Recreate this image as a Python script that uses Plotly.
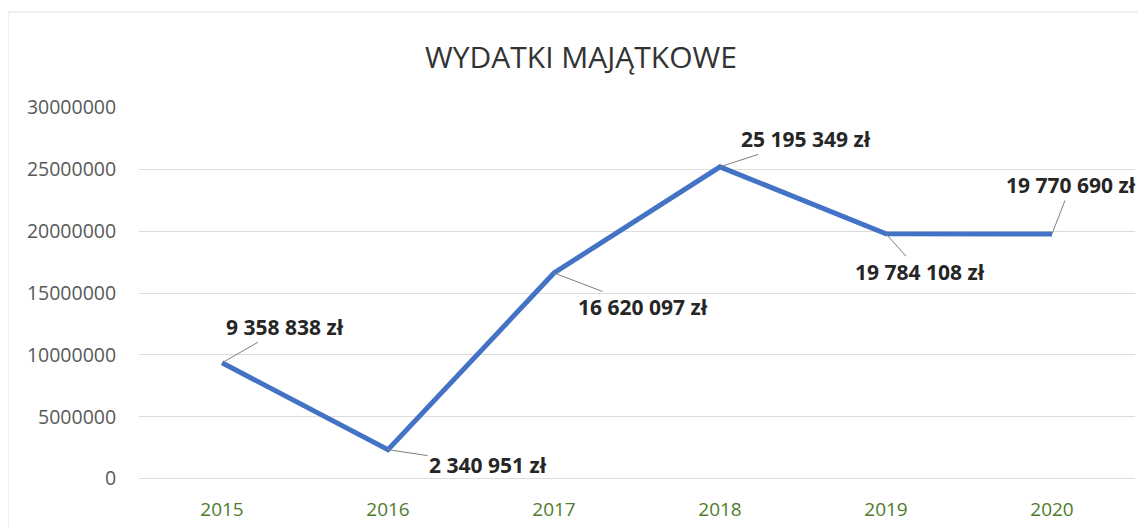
import plotly.graph_objects as go

years = ["2015", "2016", "2017", "2018", "2019", "2020"]
values = [9358838, 2340951, 16620097, 25195349, 19784108, 19770690]
y_ticks = [0, 5000000, 10000000, 15000000, 20000000, 25000000, 30000000]
# label offsets (pixels) of each data label relative to its point
label_dx = [63, 100, 89, 86, 34, 19]
label_dy = [-36, 15, 34, -28, 38, -49]


def fmt_pln(v):
    return f"{v:,}".replace(",", " ") + " zł"


fig = go.Figure()
fig.add_trace(go.Scatter(
    x=years, y=values, mode="lines",
    line=dict(color="#4472C4", width=5),
    hoverinfo="skip", showlegend=False,
))

for i, (v, dx, dy) in enumerate(zip(values, label_dx, label_dy)):
    fig.add_annotation(
        x=i, y=v, text=fmt_pln(v), showarrow=True,
        ax=dx, ay=dy, arrowhead=0, arrowwidth=1, arrowcolor="#7f7f7f",
        standoff=0, startstandoff=0,
        font=dict(family="Open Sans", size=21, color="#262626", weight="bold"),
    )

fig.update_layout(
    width=1146, height=528,
    margin=dict(l=131, r=19, t=99, b=57),
    paper_bgcolor="white", plot_bgcolor="white",
    title=dict(text="WYDATKI MAJĄTKOWE", x=573 / 1146, xref="container", xanchor="center",
               y=1 - 49 / 528, yref="container", yanchor="middle",
               font=dict(family="Open Sans", size=30, color="#333333")),
    xaxis=dict(type="category", range=[-0.5, len(years) - 0.5],
               showgrid=False, showline=False, zeroline=False,
               tickfont=dict(family="Open Sans", size=19, color="#4f7b2a"),
               ticks="outside", ticklen=13, tickcolor="rgba(0,0,0,0)"),
    yaxis=dict(range=[-30000, 30030000], tickvals=y_ticks,
               ticktext=[str(t) for t in y_ticks],
               showgrid=True, gridcolor="#dcdcdc", gridwidth=1,
               zeroline=True, zerolinecolor="#dcdcdc", zerolinewidth=1,
               showline=False,
               tickfont=dict(family="Open Sans", size=19.5, color="#595959"),
               ticks="outside", ticklen=18, tickcolor="rgba(0,0,0,0)"),
    shapes=[dict(type="rect", xref="paper", yref="paper",
                 x0=-131 / 996, x1=1.05, y0=-0.3, y1=1 + 95 / 372,
                 line=dict(color="#e3e3e3", width=1), layer="below")],
)

fig.write_html("out.html")
